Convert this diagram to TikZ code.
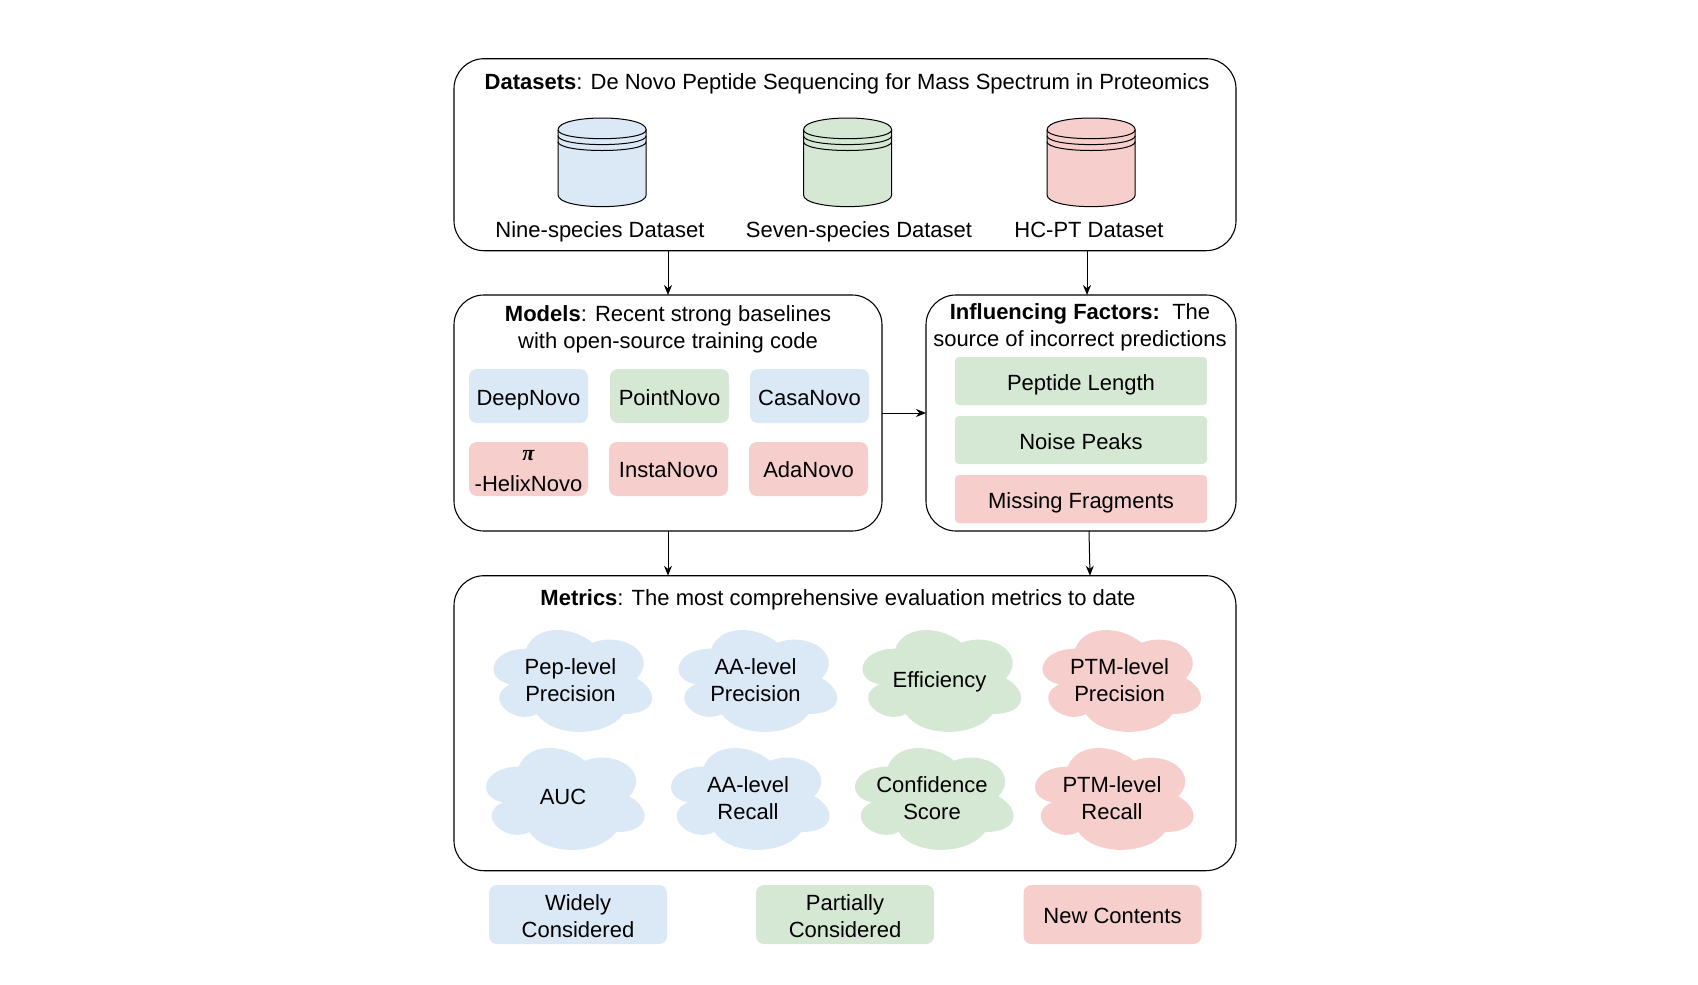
\documentclass[tikz,border=0pt]{standalone}
\usepackage{fontspec}
\setmainfont{Liberation Sans}
\newfontfamily\pifont{Liberation Serif}
\definecolor{cblue}{HTML}{DBE8F6}
\definecolor{cgreen}{HTML}{D5E8D4}
\definecolor{cred}{HTML}{F6CECC}
\tikzset{
  x=1pt,y=-1pt,
  every node/.style={font=\fontsize{22}{27}\selectfont,inner sep=0pt,outer sep=0pt,align=center,text=black},
  panel/.style={draw=black,line width=1.1pt,rounded corners=30pt,anchor=north west,fill=none},
  tag/.style={rounded corners=8pt,anchor=north west},
  lift/.style={yshift=-4pt},
  conn/.style={-{Stealth[length=10pt,width=8pt]},line width=1pt,black},
  db/.style={draw=black,line width=1pt},
}
\usetikzlibrary{arrows.meta}
\newcommand{\dbcyl}[4]{% x, y, fill, name
  \begin{scope}[shift={(#1,#2)},xscale=.98,yscale=.985]
    \draw[db,fill=#3] (0,12) .. controls (0,-4) and (90,-4) .. (90,12) -- (90,78) .. controls (90,94) and (0,94) .. (0,78) -- cycle;
    \draw[db] (0,12) .. controls (0,24) and (90,24) .. (90,12);
    \draw[db] (0,18) .. controls (0,30) and (90,30) .. (90,18);
    \draw[db] (0,24) .. controls (0,36) and (90,36) .. (90,24);
    \coordinate (#4) at (45,45);
  \end{scope}}
\newcommand{\blob}[6]{% x, y, fill, name, text, text y
  \begin{scope}[shift={(#1,#2)}]
    \fill[#3,xscale=.983,yscale=.99,yshift=-1pt] (45,30) .. controls (9,30) and (0,60) .. (28.8,66)
      .. controls (0,79.2) and (32.4,108) .. (55.8,96)
      .. controls (72,120) and (126,120) .. (144,96)
      .. controls (180,96) and (180,72) .. (157.5,60)
      .. controls (180,36) and (144,12) .. (112.5,24)
      .. controls (90,6) and (54,6) .. (45,30) -- cycle;
    \node (#4) at (88.5,#6) {#5};
  \end{scope}}
\begin{document}
\begin{tikzpicture}
\useasboundingbox (0,0) rectangle (1698,985);
\fill[white] (0,0) rectangle (1698,985);
% panels
\node[panel,minimum width=782pt,minimum height=192pt] (datasets) at (454,58.7) {};
\node[panel,minimum width=428pt,minimum height=236pt] (models) at (454,295) {};
\node[panel,minimum width=310pt,minimum height=236pt] (factors) at (926,295) {};
\node[panel,minimum width=782pt,minimum height=295pt] (metrics) at (454,575.7) {};
% titles
\node (t1) at (847,84) {\strut\textbf{Datasets}: De Novo Peptide Sequencing for Mass Spectrum in Proteomics};
\node (t2) at (668,330) {\strut\textbf{Models}: Recent strong baselines\\\strut with open-source training code};
\node (t3) at (1080,327.5) {\strut\textbf{Influencing Factors}\textbf{:}\ \ The\\\strut source of incorrect predictions};
\node (t4) at (838,600) {\strut\textbf{Metrics}: The most comprehensive evaluation metrics to date};
% datasets
\dbcyl{558}{118}{cblue}{d1}
\dbcyl{803.5}{118}{cgreen}{d2}
\dbcyl{1047}{118}{cred}{d3}
\node (l1) at (600,232) {\strut Nine-species Dataset};
\node (l2) at (859,232) {\strut Seven-species Dataset};
\node (l3) at (1089,232) {\strut HC-PT Dataset};
% models
\node[tag,fill=cblue,minimum width=119pt,minimum height=54pt] (m1) at (469,369) {};
\node[lift] at (m1.center) {\strut DeepNovo};
\node[tag,fill=cgreen,minimum width=119pt,minimum height=54pt] (m2) at (610,369) {};
\node[lift] at (m2.center) {\strut PointNovo};
\node[tag,fill=cblue,minimum width=119pt,minimum height=54pt] (m3) at (750,369) {};
\node[lift] at (m3.center) {\strut CasaNovo};
\node[tag,fill=cred,minimum width=119pt,minimum height=54pt] (m4) at (469,442) {};
\node[yshift=-2pt] at (m4.center) {\strut{\pifont\bfseries\itshape π}\\[4pt]\strut -HelixNovo};
\node[tag,fill=cred,minimum width=119pt,minimum height=54pt] (m5) at (609,442) {};
\node[yshift=-3pt] at (m5.center) {\strut InstaNovo};
\node[tag,fill=cred,minimum width=119pt,minimum height=54pt] (m6) at (749,442) {};
\node[yshift=-3pt] at (m6.center) {\strut AdaNovo};
% factors
\node[tag,fill=cgreen,rounded corners=4pt,minimum width=252pt,minimum height=48pt] (f1) at (955,357) {};
\node[lift] at (f1.center) {\strut Peptide Length};
\node[tag,fill=cgreen,rounded corners=4pt,minimum width=252pt,minimum height=48pt] (f2) at (955,416) {};
\node[lift] at (f2.center) {\strut Noise Peaks};
\node[tag,fill=cred,rounded corners=4pt,minimum width=252pt,minimum height=48pt] (f3) at (955,475) {};
\node[lift] at (f3.center) {\strut Missing Fragments};
% clouds
\blob{482}{618}{cblue}{c1}{\strut Pep-level\\\strut Precision}{65}
\blob{667}{618}{cblue}{c2}{\strut AA-level\\\strut Precision}{65}
\blob{851}{618}{cgreen}{c3}{\strut Efficiency}{64}
\blob{1031}{618}{cred}{c4}{\strut PTM-level\\\strut Precision}{65}
\blob{474.5}{736}{cblue}{c5}{\strut AUC}{63.5}
\blob{659.5}{736}{cblue}{c6}{\strut AA-level\\\strut Recall}{65}
\blob{843.5}{736}{cgreen}{c7}{\strut Confidence\\\strut Score}{65}
\blob{1023.5}{736}{cred}{c8}{\strut PTM-level\\\strut Recall}{65}
% legend
\node[tag,fill=cblue,minimum width=178pt,minimum height=59pt] (k1) at (489,885) {};
\node[lift] at (k1.center) {\strut Widely\\\strut Considered};
\node[tag,fill=cgreen,minimum width=178pt,minimum height=59pt] (k2) at (756,885) {};
\node[lift] at (k2.center) {\strut Partially\\\strut Considered};
\node[tag,fill=cred,minimum width=178pt,minimum height=59pt] (k3) at (1023.5,885) {};
\node[lift] at (k3.center) {\strut New Contents};
% connectors
\coordinate (a1) at (datasets.south -| models.north);
\coordinate (a2) at (1087,250.7);
\coordinate (a3) at (1087,295);
\coordinate (a4) at (1089,531);
\coordinate (a5) at (1090,575.7);
\draw[conn] (a1) -- (models.north);
\draw[conn] (a2) -- (a3);
\draw[conn] (models.east) -- (factors.west);
\draw[conn] (models.south) -- (models.south |- metrics.north);
\draw[conn] (a4) -- (a5);
\end{tikzpicture}
\end{document}
